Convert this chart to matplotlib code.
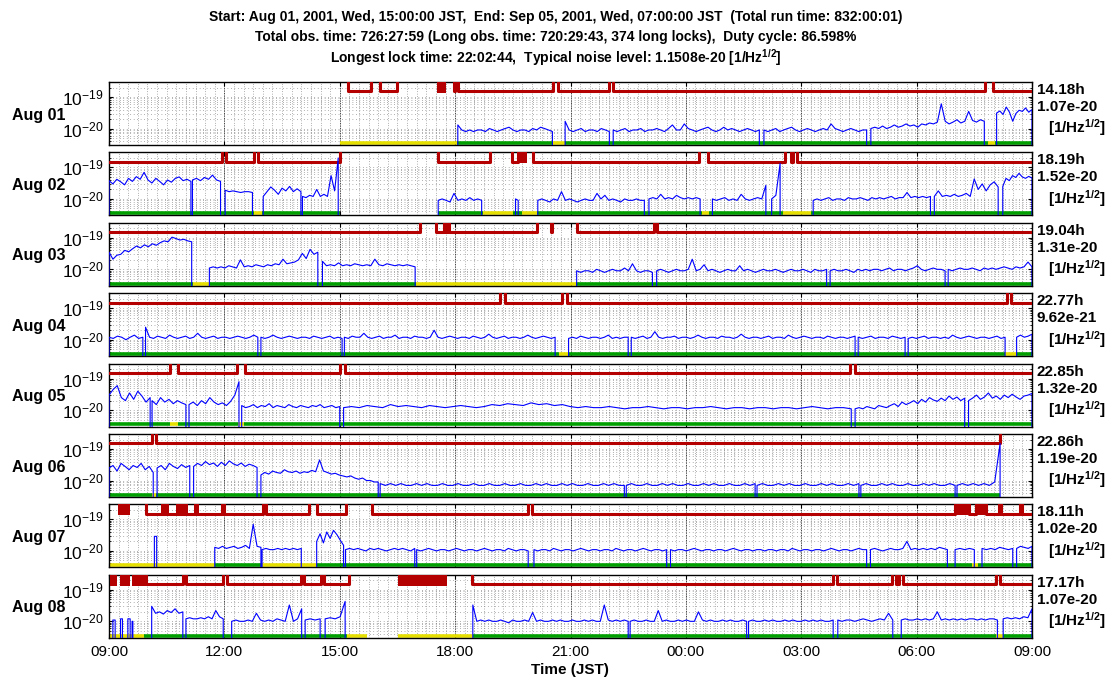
import numpy as np
import matplotlib.pyplot as plt
from matplotlib.ticker import FixedLocator, NullFormatter

plt.rcParams['font.family'] = ['Liberation Sans', 'DejaVu Sans']
plt.rcParams['mathtext.fontset'] = 'custom'
plt.rcParams['mathtext.rm'] = 'Liberation Sans'
plt.rcParams['mathtext.bf'] = 'Liberation Sans:bold'
plt.rcParams['mathtext.it'] = 'Liberation Sans:italic'

# labels
days = ['Aug 01', 'Aug 02', 'Aug 03', 'Aug 04', 'Aug 05', 'Aug 06', 'Aug 07', 'Aug 08']
lock_hours = ['14.18h', '18.19h', '19.04h', '22.77h', '22.85h', '22.86h', '18.11h', '17.17h']
noise_level = ['1.07e-20', '1.52e-20', '1.31e-20', '9.62e-21', '1.32e-20', '1.19e-20', '1.02e-20', '1.07e-20']
hour_ticks = [0, 3, 6, 9, 12, 15, 18, 21, 24]
hour_labels = ['09:00', '12:00', '15:00', '18:00', '21:00', '00:00', '03:00', '06:00', '09:00']

# noise spectrum level, hours after 09:00, values in 1e-21 [1/Hz^1/2]
# each entry: (segment start, segment end, readings)
noise_aug01 = [
    (9.07, 11.53, [13, 9, 8, 9, 8, 9, 9, 8, 10, 9, 8, 9, 10, 11, 9, 8, 9, 9, 8, 10, 9, 11, 10, 9, 8]),
    (11.86, 13.01, [17, 9, 8, 9, 10, 8, 9, 9, 8, 10, 9, 8]),
    (13.11, 16.91, [9, 8, 9, 10, 8, 9, 9, 10, 8, 9, 9, 10, 9, 8, 10, 13, 9, 9, 14, 10, 9, 8, 9, 10, 11,
                    9, 8, 9, 11, 9, 10, 9, 8, 9, 10, 9, 8, 9]),
    (17.03, 19.70, [9, 8, 9, 10, 8, 9, 10, 11, 9, 8, 9, 10, 9, 8, 9, 10, 9, 14, 10, 9, 8, 9, 10, 9, 8, 9, 9]),
    (19.81, 22.76, [10, 11, 10, 12, 10, 11, 13, 11, 12, 14, 12, 13, 11, 14, 13, 15, 14, 16, 61, 17, 14,
                    16, 19, 15, 17, 35, 18, 16, 19, 17]),
    (23.08, 24.0, [31, 36, 28, 48, 33, 17, 30, 38, 35, 45, 33, 40]),
]
noise_aug02 = [
    (0.0, 2.13, [38, 30, 42, 35, 28, 45, 36, 51, 42, 70, 40, 32, 45, 36, 28, 40, 34, 45, 50, 38, 42, 36]),
    (2.17, 2.90, [40, 45, 38, 48, 42, 57, 40, 36]),
    (3.02, 3.73, [19, 17, 18, 17, 16, 17, 17, 16]),
    (4.01, 4.99, [12, 17, 24, 19, 14, 22, 18, 25, 17, 21, 17]),
    (5.03, 5.96, [12, 11, 13, 12, 20, 12, 14, 12, 55, 18, 200]),
    (8.56, 9.69, [9, 10, 9, 8, 15, 9, 10, 9, 11, 9, 10, 9]),
    (10.57, 10.64, [10, 9]),
    (11.15, 13.92, [9, 10, 9, 8, 10, 9, 17, 9, 10, 9, 8, 9, 10, 9, 9, 15, 10, 13, 9, 10, 9, 8, 10, 9,
                    9, 10, 9, 9]),
    (14.04, 15.37, [10, 11, 10, 14, 10, 11, 10, 13, 11, 10, 11, 10, 11, 10]),
    (15.69, 17.08, [10, 9, 10, 11, 9, 10, 9, 14, 10, 9, 10, 11, 10, 27]),
    (17.23, 17.45, [10, 13, 134]),
    (18.31, 21.36, [9, 10, 9, 10, 11, 9, 10, 10, 9, 11, 10, 10, 11, 10, 9, 11, 10, 11, 10, 11, 12, 10,
                    11, 11, 16, 11, 12, 11, 12, 11, 12]),
    (21.46, 23.12, [12, 18, 12, 13, 12, 14, 12, 13, 15, 12, 43, 20, 30, 18, 28, 35, 24]),
    (23.24, 24.0, [25, 45, 38, 55, 48, 65, 50, 45, 52, 46]),
]
noise_aug03 = [
    (0.0, 2.15, [35, 21, 28, 30, 40, 36, 45, 55, 48, 60, 52, 65, 58, 70, 80, 75, 105, 95, 85, 90, 80, 75]),
    (2.61, 5.43, [11, 12, 11, 12, 11, 13, 12, 11, 20, 12, 13, 12, 14, 13, 12, 14, 13, 15, 14, 21, 15,
                  16, 17, 20, 32, 22, 43, 30, 35]),
    (5.55, 7.96, [18, 13, 14, 13, 16, 13, 14, 13, 15, 14, 13, 14, 13, 21, 14, 13, 15, 14, 13, 14, 13,
                  14, 13, 12]),
    (12.16, 14.13, [9, 8, 9, 9, 8, 10, 9, 8, 9, 10, 9, 9, 11, 9, 15, 9, 8, 9, 9, 8]),
    (14.24, 18.66, [9, 10, 9, 8, 9, 10, 9, 9, 10, 21, 9, 10, 14, 9, 10, 9, 8, 9, 10, 9, 9, 13, 9, 10,
                    9, 8, 9, 10, 9, 9, 10, 9, 8, 9, 10, 9, 9, 10, 9, 8, 10, 9, 9, 10]),
    (18.75, 21.74, [9, 10, 9, 9, 10, 9, 8, 10, 9, 10, 9, 10, 10, 9, 10, 11, 9, 10, 10, 9, 10, 11, 13,
                    10, 9, 10, 11, 10, 10, 9]),
    (21.82, 24.0, [10, 9, 10, 11, 10, 10, 11, 10, 9, 11, 10, 11, 10, 11, 12, 11, 10, 12, 11, 12, 17, 12]),
]
noise_aug04 = [
    (0.0, 0.88, [12, 11, 13, 12, 10, 12, 14, 11, 12]),
    (0.95, 3.87, [25, 12, 11, 13, 12, 11, 14, 12, 11, 12, 13, 11, 12, 16, 12, 11, 12, 13, 11, 12, 12,
                  11, 12, 13, 12, 11, 12, 14, 12]),
    (3.95, 6.06, [12, 11, 12, 14, 12, 11, 12, 13, 12, 11, 12, 12, 11, 13, 12, 11, 12, 13, 11, 12, 11]),
    (6.12, 11.6, [12, 11, 13, 12, 12, 16, 12, 11, 12, 13, 11, 12, 12, 14, 11, 12, 12, 11, 13, 12, 12,
                  11, 12, 20, 12, 11, 12, 13, 12, 11, 12, 12, 11, 13, 12, 11, 12, 15, 12, 11, 12, 13,
                  11, 12, 12, 11, 12, 14, 12, 11, 12, 13, 12, 11, 12]),
    (11.95, 13.5, [11, 12, 11, 13, 12, 11, 12, 12, 11, 12, 14, 11, 12, 11, 12, 12]),
    (13.58, 19.4, [12, 11, 12, 13, 11, 12, 18, 12, 11, 12, 12, 13, 11, 12, 12, 11, 12, 14, 12, 11, 12,
                   12, 11, 13, 12, 12, 11, 12, 15, 12, 11, 12, 12, 11, 12, 13, 11, 12, 12, 11, 14, 12,
                   11, 12, 13, 12, 11, 12, 12, 11, 13, 12, 11, 12, 12, 11, 12, 13]),
    (19.48, 20.7, [12, 11, 12, 13, 11, 12, 12, 11, 13, 12, 11, 12]),
    (20.78, 23.3, [11, 12, 11, 12, 13, 11, 12, 12, 11, 12, 11, 14, 12, 11, 12, 13, 12, 11, 12, 12, 11,
                   12, 13, 11, 12]),
    (23.6, 24.0, [12, 14, 12, 13, 15]),
]
noise_aug05 = [
    (0.0, 1.07, [30, 45, 60, 25, 20, 35, 22, 40, 28, 18, 25]),
    (1.12, 2.0, [20, 15, 25, 18, 22, 16, 20, 17, 15]),
    (2.08, 3.38, [15, 18, 14, 20, 16, 25, 18, 15, 17, 14, 19, 30, 80]),
    (3.45, 6.0, [14, 12, 13, 15, 12, 14, 13, 16, 12, 14, 13, 12, 15, 13, 12, 14, 13, 12, 14, 13, 15,
                 12, 13, 14, 12, 13]),
    (6.1, 19.3, [12, 13, 12, 14, 13, 12, 15, 13, 14, 13, 12, 14, 13, 12, 13, 14, 13, 12, 13, 15, 14,
                 16, 15, 14, 17, 15, 16, 14, 15, 13, 12, 13, 12, 12, 13, 12, 11, 12, 12, 13, 12, 11,
                 12, 12, 11, 12, 12, 13, 12, 11, 12, 12, 11, 12, 12, 11, 12, 12, 11, 12, 13, 12, 11,
                 12, 12, 11]),
    (19.4, 22.25, [11, 12, 11, 13, 12, 11, 14, 13, 12, 14, 16, 13, 18, 15, 17, 20, 16, 22, 18, 25, 21,
                   19, 24, 20, 28, 22, 26, 20, 24]),
    (22.35, 24.0, [20, 24, 30, 22, 26, 35, 24, 28, 22, 30, 25, 32, 26, 22, 28, 30, 34]),
]
noise_aug06 = [
    (0.0, 1.15, [25, 30, 20, 35, 28, 22, 30, 26, 35, 22, 28, 18]),
    (1.25, 2.1, [25, 30, 22, 35, 28, 24, 32, 26, 30]),
    (2.2, 3.85, [28, 35, 30, 40, 32, 36, 28, 38, 30, 42, 34, 30, 36, 28, 33, 30, 26]),
    (3.95, 7.0, [15, 18, 16, 20, 18, 17, 22, 19, 18, 20, 17, 19, 18, 21, 19, 45, 20, 18, 16, 17, 15,
                 14, 13, 14, 12, 11, 12, 10, 10, 9, 9]),
    (7.05, 13.4, [8, 7, 8, 7, 8, 7, 7, 8, 7, 8, 7, 7, 8, 7, 7, 8, 7, 7, 8, 7, 7, 8, 7, 7, 8, 7, 7, 8,
                  7, 7, 8, 7, 8, 7, 7, 8, 7, 8, 7, 7, 8, 7, 7, 8, 7, 8, 7, 7]),
    (13.45, 16.8, [7, 8, 7, 7, 8, 7, 7, 8, 7, 8, 7, 7, 8, 7, 7, 8, 7, 8, 7, 7, 8, 7, 7, 8, 7, 8]),
    (16.85, 19.5, [7, 8, 7, 7, 8, 7, 8, 7, 7, 8, 7, 7, 8, 7, 8, 7, 7, 8, 7, 8]),
    (19.55, 22.0, [7, 8, 7, 7, 8, 7, 8, 7, 7, 8, 7, 7, 8, 7, 8, 7, 7, 8, 7]),
    (22.05, 23.17, [7, 8, 7, 8, 7, 8, 7, 9, 150]),
]
noise_aug07 = [
    (1.18, 1.24, [29, 29]),
    (2.75, 3.95, [13, 12, 14, 12, 13, 14, 12, 13, 15, 12, 70, 14, 13]),
    (3.98, 5.0, [11, 12, 11, 11, 12, 11, 12, 11, 12, 11, 12]),
    (5.4, 6.1, [20, 35, 18, 40, 25, 45, 33, 22, 15]),
    (6.15, 7.95, [11, 12, 11, 12, 11, 10, 12, 11, 12, 11, 10, 11, 12, 11, 12, 11, 10, 12]),
    (8.0, 10.9, [11, 10, 11, 12, 11, 10, 11, 11, 10, 11, 12, 11, 10, 11, 11, 10, 11, 12, 11, 10, 11,
                 11, 10, 12, 11, 10, 11, 11, 10]),
    (11.05, 14.5, [11, 10, 11, 11, 10, 12, 11, 10, 11, 11, 10, 11, 12, 11, 10, 11, 11, 10, 11, 11, 10,
                   12, 11, 10, 11, 11, 10, 11, 12, 11, 10, 11, 11, 10, 11]),
    (14.6, 19.7, [11, 10, 11, 11, 10, 11, 12, 11, 10, 11, 11, 10, 11, 11, 10, 11, 12, 11, 10, 11, 11,
                  10, 11, 11, 10, 11, 11, 10, 11, 11, 10, 12, 11, 10, 11, 11, 10, 11, 11, 10, 11, 12,
                  11, 10, 11, 11, 10, 11, 12, 11, 11]),
    (19.8, 21.8, [11, 12, 11, 10, 11, 12, 11, 11, 12, 20, 11, 12, 11, 12, 11, 12, 11, 13, 12, 11]),
    (22.0, 22.5, [11, 12, 11, 12, 11]),
    (22.7, 23.5, [12, 11, 12, 11, 13, 12, 11, 12]),
    (23.6, 24.0, [12, 14, 13, 12, 14]),
]
noise_aug08 = [
    (0.10, 0.16, [11, 11]),
    (0.30, 0.35, [12, 12]),
    (0.49, 0.55, [12, 12]),
    (0.60, 0.62, [10, 10]),
    (1.11, 1.92, [30, 18, 20, 17, 22, 19, 25, 18, 20]),
    (2.0, 2.97, [12, 13, 12, 12, 13, 12, 14, 12, 22, 14, 12]),
    (3.19, 5.01, [10, 11, 10, 10, 11, 10, 18, 11, 10, 11, 10, 12, 11, 10, 33, 10, 12, 25]),
    (5.1, 5.49, [11, 12, 11, 12]),
    (5.62, 6.14, [12, 13, 12, 14, 43]),
    (9.46, 13.5, [33, 10, 11, 10, 11, 10, 10, 11, 10, 9, 11, 10, 10, 11, 10, 19, 10, 11, 10, 10, 11,
                  10, 11, 10, 10, 11, 10, 10, 11, 10, 11, 10, 10, 33, 11, 10, 11, 10, 11, 10]),
    (13.55, 16.58, [10, 11, 10, 10, 11, 10, 10, 22, 10, 11, 10, 10, 11, 10, 11, 10, 10, 20, 11, 10, 11,
                    10, 10, 11, 10, 11, 10, 10, 11, 10]),
    (16.63, 18.83, [10, 11, 10, 10, 11, 10, 11, 10, 10, 11, 10, 11, 10, 10, 11, 10, 11, 10, 11, 10, 10, 11]),
    (18.95, 20.38, [11, 10, 11, 11, 10, 11, 12, 11, 10, 11, 12, 11, 18, 11]),
    (20.6, 23.1, [11, 12, 11, 11, 12, 11, 12, 11, 12, 20, 11, 12, 11, 12, 11, 12, 11, 12, 12, 11, 12,
                  11, 12, 12, 11]),
    (23.25, 24.0, [12, 13, 12, 13, 12, 14, 13, 25]),
]
noise = [noise_aug01, noise_aug02, noise_aug03, noise_aug04,
         noise_aug05, noise_aug06, noise_aug07, noise_aug08]

# red trace: intervals (hours) where it sits on the low level, plus blocks of fast toggling
red_low = [
    [(6.22, 6.80), (7.05, 7.50), (8.97, 9.00), (9.07, 11.55), (11.68, 13.0), (13.1, 22.79), (22.99, 24.0)],
    [(0.0, 2.95), (3.03, 3.78), (3.88, 6.0), (8.55, 9.91), (10.49, 10.64), (11.03, 15.34), (15.58, 17.59),
     (17.73, 17.79), (17.90, 24.0)],
    [(0.0, 8.09), (8.5, 8.72), (8.85, 11.14), (11.50, 11.53), (12.16, 14.18), (14.24, 24.0)],
    [(0.0, 10.17), (10.3, 11.78), (11.9, 23.35), (23.45, 24.0)],
    [(0.0, 1.59), (1.8, 3.33), (3.54, 6.0), (6.13, 19.27), (19.4, 24.0)],
    [(0.0, 1.12), (1.22, 23.17)],
    [(0.95, 2.95), (3.0, 4.0), (4.08, 5.2), (5.4, 6.15), (6.85, 10.9), (11.0, 22.0), (22.35, 22.55),
     (22.8, 23.15), (23.2, 23.7), (23.75, 24.0)],
    [(0.96, 1.93), (2.0, 2.97), (3.08, 4.98), (5.07, 5.50), (5.59, 6.25), (9.44, 18.83), (18.92, 20.36),
     (20.46, 20.54), (20.65, 23.06), (23.17, 24.0)],
]
red_busy = [
    [(8.53, 8.76)],
    [(10.67, 10.86)],
    [(8.72, 8.85)],
    [],
    [],
    [],
    [(0.23, 0.55), (1.35, 1.55), (1.75, 2.05), (2.2, 2.35), (22.0, 22.35), (22.55, 22.8)],
    [(0.03, 0.2), (0.29, 0.55), (0.59, 0.96), (7.51, 8.79)],
]

# observation bar: (start, end, state) g = locked, y = unlocked
obs = [
    [(6.0, 9.04, 'y'), (9.04, 11.55, 'g'), (11.55, 11.86, 'y'), (11.86, 22.85, 'g'), (22.85, 23.05, 'y'),
     (23.05, 24.0, 'g')],
    [(0.0, 3.78, 'g'), (3.78, 3.97, 'y'), (3.97, 6.0, 'g'), (8.55, 9.73, 'g'), (9.73, 10.51, 'y'),
     (10.51, 10.73, 'g'), (10.73, 11.12, 'y'), (11.12, 15.41, 'g'), (15.41, 15.6, 'y'), (15.6, 17.53, 'g'),
     (17.53, 18.25, 'y'), (18.25, 24.0, 'g')],
    [(0.0, 2.18, 'g'), (2.18, 2.62, 'y'), (2.62, 7.98, 'g'), (7.98, 12.15, 'y'), (12.15, 24.0, 'g')],
    [(0.0, 11.7, 'g'), (11.7, 11.95, 'y'), (11.95, 23.3, 'g'), (23.3, 23.6, 'y'), (23.6, 24.0, 'g')],
    [(0.0, 1.59, 'g'), (1.59, 1.8, 'y'), (1.8, 3.35, 'g'), (3.35, 3.5, 'y'), (3.5, 24.0, 'g')],
    [(0.0, 1.12, 'g'), (1.12, 1.22, 'y'), (1.22, 23.17, 'g')],
    [(0.0, 2.75, 'y'), (2.75, 3.98, 'g'), (3.98, 5.4, 'y'), (5.4, 22.45, 'g'), (22.45, 22.6, 'y'),
     (22.6, 24.0, 'g')],
    [(0.0, 0.9, 'y'), (0.9, 6.18, 'g'), (6.18, 6.70, 'y'), (7.51, 9.46, 'y'), (9.46, 23.06, 'g'),
     (23.06, 23.25, 'y'), (23.25, 24.0, 'g')],
]

RED = '#b40000'
BLUE = '#0000ff'
GREEN = '#00a000'
YELLOW = '#e6e000'
LOW = 1.5e-19
HIGH = 1e-17
FLOOR = 1e-22
BAR = 3.5e-21

W, H = 1112, 679
fig = plt.figure(figsize=(W / 100, H / 100), dpi=100)

fig.text(0.5, 1 - 17 / H, 'Start: Aug 01, 2001, Wed, 15:00:00 JST,  End: Sep 05, 2001, Wed, 07:00:00 JST  '
         '(Total run time: 832:00:01)', ha='center', va='center', fontsize=10, fontweight='bold')
fig.text(0.5, 1 - 37.5 / H, 'Total obs. time: 726:27:59 (Long obs. time: 720:29:43, 374 long locks),  '
         'Duty cycle: 86.598%', ha='center', va='center', fontsize=10, fontweight='bold')
fig.text(0.5, 1 - 58 / H, r'Longest lock time: 22:02:44,  Typical noise level: 1.1508e-20 '
         r'[1/Hz$^{\mathbf{1/2}}$]', ha='center', va='center', fontsize=10, fontweight='bold')

for i in range(8):
    top = 82 + i * 70.4
    ax = fig.add_axes([109 / W, 1 - (top + 63) / H, 923 / W, 63 / H])
    ax.set_yscale('log')
    ax.set_xlim(0, 24)
    ax.set_ylim(3e-21, 3e-19)

    # observation bar
    for s, e, st in obs[i]:
        ax.plot([s, e], [BAR, BAR], color=GREEN if st == 'g' else YELLOW, lw=2.6,
                solid_capstyle='butt', zorder=2)

    # red lock trace
    xs, ys = [], []
    for s, e in red_low[i]:
        if s > 0:
            xs.append(s)
            ys.append(HIGH)
        xs += [s, e]
        ys += [LOW, LOW]
        if e < 24:
            xs.append(e)
            ys.append(HIGH)
    ax.plot(xs, ys, color=RED, lw=2.2, zorder=3)
    for s, e in red_busy[i]:
        ax.fill_between([s, e], LOW / 1.12, HIGH, color=RED, lw=0, zorder=3)

    # noise level trace
    xs, ys = [], []
    for t0, t1, vals in noise[i]:
        t = np.linspace(t0, t1, len(vals))
        xs += [t0] + list(t) + [t1]
        ys += [FLOOR] + [v * 1e-21 for v in vals] + [FLOOR]
    ax.plot(xs, ys, color=BLUE, lw=0.8, zorder=4)

    # grid and ticks
    ax.xaxis.set_major_locator(FixedLocator(hour_ticks))
    ax.xaxis.set_minor_locator(FixedLocator(np.arange(0, 24.01, 0.25)))
    ax.yaxis.set_major_locator(FixedLocator([1e-20, 1e-19]))
    ax.yaxis.set_minor_locator(FixedLocator([k * 10.0 ** e for e in (-21, -20, -19) for k in range(2, 10)]))
    ax.yaxis.set_minor_formatter(NullFormatter())
    ax.set_yticklabels([r'$10^{-20}$', r'$10^{-19}$'], fontsize=12.5)
    ax.grid(True, which='major', axis='x', color='k', ls=(0, (1, 1)), lw=0.6, zorder=1)
    ax.grid(True, which='minor', axis='x', color='0.4', ls=(0, (1, 2.5)), lw=0.5, zorder=1)
    ax.grid(True, which='both', axis='y', color='0.4', ls=(0, (1, 4)), lw=0.5, zorder=1)
    ax.tick_params(which='both', direction='in', top=True, right=True)
    ax.tick_params(which='major', length=3, pad=4)
    ax.tick_params(which='minor', length=1.5)
    ax.tick_params(axis='x', which='minor', length=0)
    if i == 7:
        ax.set_xticklabels(hour_labels, fontsize=11)
        ax.tick_params(axis='x', pad=5)
    else:
        ax.set_xticklabels([])
    for sp in ax.spines.values():
        sp.set_linewidth(1.0)

    ax.text(-0.0758, 0.476, days[i], transform=ax.transAxes, ha='center', va='center',
            fontsize=11.5, fontweight='bold')
    ax.text(1.0054, 1 - 8 / 63, lock_hours[i], transform=ax.transAxes, ha='left', va='center',
            fontsize=11, fontweight='bold')
    ax.text(1.0054, 1 - 25 / 63, noise_level[i], transform=ax.transAxes, ha='left', va='center',
            fontsize=11, fontweight='bold')
    ax.text(1.0173, 1 - 46 / 63, r'[1/Hz$^{\mathbf{1/2}}$]', transform=ax.transAxes, ha='left',
            va='center', fontsize=11, fontweight='bold')

fig.text(570 / W, 1 - 670 / H, 'Time (JST)', ha='center', va='center', fontsize=11, fontweight='bold')

fig.savefig('out.png', dpi=100)
